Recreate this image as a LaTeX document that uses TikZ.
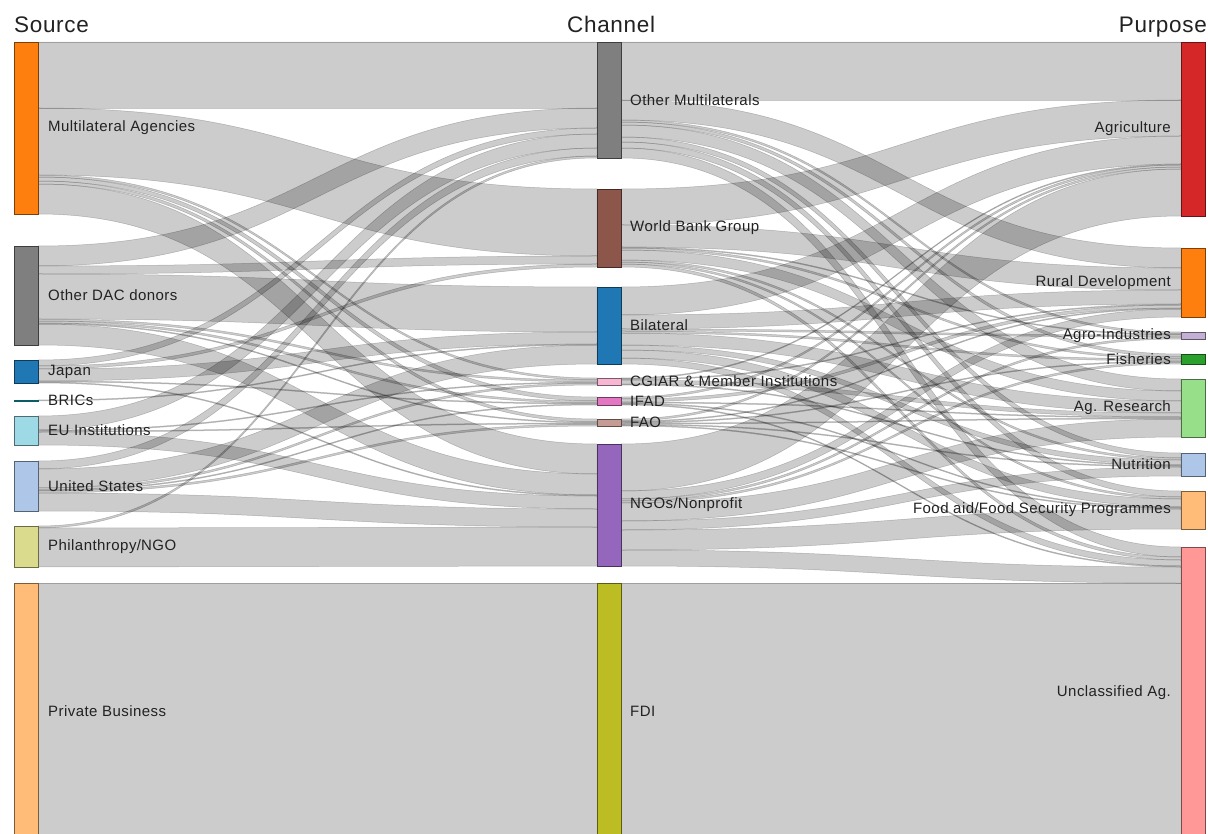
\documentclass[tikz,border=0pt]{standalone}
\usepackage{fontspec}
\setmainfont{Liberation Sans}[LetterSpace=3]
\usetikzlibrary{calc}
\pgfdeclarelayer{bg}
\pgfsetlayers{bg,main}
% d3 category20 colours
\definecolor{cMA}{HTML}{FF7F0E}
\definecolor{cOD}{HTML}{7F7F7F}
\definecolor{cJP}{HTML}{1F77B4}
\definecolor{cBR}{HTML}{17BECF}
\definecolor{cEU}{HTML}{9EDAE5}
\definecolor{cUS}{HTML}{AEC7E8}
\definecolor{cPH}{HTML}{DBDB8D}
\definecolor{cPB}{HTML}{FFBB78}
\definecolor{cOM}{HTML}{7F7F7F}
\definecolor{cWB}{HTML}{8C564B}
\definecolor{cBI}{HTML}{1F77B4}
\definecolor{cCG}{HTML}{F7B6D2}
\definecolor{cIF}{HTML}{E377C2}
\definecolor{cFA}{HTML}{C49C94}
\definecolor{cNG}{HTML}{9467BD}
\definecolor{cFD}{HTML}{BCBD22}
\definecolor{cAG}{HTML}{D62728}
\definecolor{cRD}{HTML}{FF7F0E}
\definecolor{cAI}{HTML}{C5B0D5}
\definecolor{cFI}{HTML}{2CA02C}
\definecolor{cAR}{HTML}{98DF8A}
\definecolor{cNU}{HTML}{AEC7E8}
\definecolor{cFO}{HTML}{FFBB78}
\definecolor{cUN}{HTML}{FF9896}
\definecolor{txt}{HTML}{222222}

\tikzset{
  snode/.style={rectangle, draw=#1!49!black, fill=#1, line width=0.8pt,
    minimum width=24pt, inner sep=0pt, outer sep=0pt, anchor=north west},
  lbl/.style={font=\fontsize{15}{18}\selectfont, text=txt, inner sep=0pt},
  ttl/.style={font=\fontsize{22.5}{26}\selectfont, text=txt, inner sep=0pt},
  band/.style={fill=black, fill opacity=0.2, draw=black, draw opacity=0.22, line width=0.5pt},
}

\newcommand\skset[3]{\expandafter\xdef\csname sk#1@#2\endcsname{#3}}
\newcommand\sknode[5]{% name, colour, x, y, height
  \node[snode=#2, minimum height=#5pt] (#1) at (#3,#4) {};
  \skset{out}{#1}{0}\skset{in}{#1}{0}}
\newcommand\sklink[3]{% source, target, value
  \edef\ska{\csname skout@#1\endcsname}%
  \edef\skb{\csname skin@#2\endcsname}%
  \begin{pgfonlayer}{bg}
  \path[band] let \p1=([yshift=-\ska pt]#1.north east),
                  \p2=([yshift=-\skb pt]#2.north west),
                  \n1={0.5*(\x1+\x2)}, \n2={#3pt} in
    (\p1) .. controls (\n1,\y1) and (\n1,\y2) .. (\p2)
    -- (\x2,\y2-\n2) .. controls (\n1,\y2-\n2) and (\n1,\y1-\n2) .. (\x1,\y1-\n2) -- cycle;
  \end{pgfonlayer}
  \pgfmathsetmacro\ska{\ska+#3}\skset{out}{#1}{\ska}%
  \pgfmathsetmacro\skb{\skb+#3}\skset{in}{#2}{\skb}%
}

\begin{document}
\begin{tikzpicture}[x=1pt, y=-1pt]
\clip (0,0) rectangle (1208,834);
\begin{pgfonlayer}{bg}
\fill[white] (0,0) rectangle (1208,834);
\end{pgfonlayer}

% ---- Source column
\sknode{MA}{cMA}{14}{42}{172}
\sknode{OD}{cOD}{14}{246}{99}
\sknode{JP}{cJP}{14}{360}{23}
\sknode{BR}{cBR}{14}{400}{1}
\sknode{EU}{cEU}{14}{416}{29}
\sknode{US}{cUS}{14}{461}{50}
\sknode{PH}{cPH}{14}{526}{41}
\sknode{PB}{cPB}{14}{583}{256}
% ---- Channel column
\sknode{OM}{cOM}{597}{42}{116}
\sknode{WB}{cWB}{597}{189}{78}
\sknode{BI}{cBI}{597}{287}{77}
\sknode{CG}{cCG}{597}{378}{7}
\sknode{IF}{cIF}{597}{397}{8}
\sknode{FA}{cFA}{597}{419}{7}
\sknode{NG}{cNG}{597}{444}{122}
\sknode{FD}{cFD}{597}{583}{256}
% ---- Purpose column
\sknode{AG}{cAG}{1181}{42}{174}
\sknode{RD}{cRD}{1181}{248}{69}
\sknode{AI}{cAI}{1181}{332}{7}
\sknode{FI}{cFI}{1181}{354}{10}
\sknode{AR}{cAR}{1181}{379}{58}
\sknode{NU}{cNU}{1181}{453}{23}
\sknode{FO}{cFO}{1181}{491}{38}
\sknode{UN}{cUN}{1181}{547}{292}

% ---- Source -> Channel
\sklink{MA}{OM}{66}\sklink{MA}{WB}{67}\sklink{MA}{CG}{2}\sklink{MA}{IF}{4}\sklink{MA}{FA}{3}\sklink{MA}{NG}{30}
\sklink{OD}{OM}{20}\sklink{OD}{WB}{8}\sklink{OD}{BI}{45}\sklink{OD}{CG}{2}\sklink{OD}{IF}{2}\sklink{OD}{FA}{1}\sklink{OD}{NG}{21}
\sklink{JP}{OM}{6}\sklink{JP}{WB}{3}\sklink{JP}{BI}{12}\sklink{JP}{IF}{1}\sklink{JP}{NG}{1}
\sklink{BR}{BI}{1}
\sklink{EU}{OM}{14}\sklink{EU}{CG}{1}\sklink{EU}{FA}{1}\sklink{EU}{NG}{13}
\sklink{US}{OM}{8}\sklink{US}{BI}{19}\sklink{US}{CG}{2}\sklink{US}{IF}{1}\sklink{US}{FA}{2}\sklink{US}{NG}{18}
\sklink{PH}{OM}{2}\sklink{PH}{NG}{39}
\sklink{PB}{FD}{256}

% ---- Channel -> Purpose
\sklink{OM}{AG}{58}\sklink{OM}{RD}{20}\sklink{OM}{AI}{2}\sklink{OM}{FI}{3}\sklink{OM}{AR}{12}\sklink{OM}{NU}{5}\sklink{OM}{FO}{6}\sklink{OM}{UN}{10}
\sklink{WB}{AG}{36}\sklink{WB}{RD}{22}\sklink{WB}{AI}{1}\sklink{WB}{FI}{2}\sklink{WB}{AR}{10}\sklink{WB}{NU}{2}\sklink{WB}{FO}{2}\sklink{WB}{UN}{3}
\sklink{BI}{AG}{28}\sklink{BI}{RD}{14}\sklink{BI}{AI}{2}\sklink{BI}{FI}{2}\sklink{BI}{AR}{12}\sklink{BI}{NU}{5}\sklink{BI}{FO}{8}\sklink{BI}{UN}{6}
\sklink{CG}{AG}{1}\sklink{CG}{RD}{1}\sklink{CG}{AR}{4}\sklink{CG}{NU}{1}
\sklink{IF}{AG}{2}\sklink{IF}{RD}{3}\sklink{IF}{AR}{1}\sklink{IF}{FO}{1}\sklink{IF}{UN}{1}
\sklink{FA}{AG}{2}\sklink{FA}{RD}{1}\sklink{FA}{FI}{1}\sklink{FA}{AR}{1}\sklink{FA}{NU}{1}\sklink{FA}{FO}{1}
\sklink{NG}{AG}{47}\sklink{NG}{RD}{8}\sklink{NG}{AI}{2}\sklink{NG}{FI}{2}\sklink{NG}{AR}{18}\sklink{NG}{NU}{9}\sklink{NG}{FO}{20}\sklink{NG}{UN}{16}
\sklink{FD}{UN}{256}

% ---- Titles
\node[ttl, anchor=base west] (tS) at (14,33) {Source};
\node[ttl, anchor=base west] (tC) at (567,33) {Channel};
\node[ttl, anchor=base east] (tP) at (1207,33) {Purpose};

% ---- Labels
\foreach \n/\t in {MA/Multilateral Agencies, OD/Other DAC donors, JP/Japan, BR/BRICs,
  EU/EU Institutions, US/United States, PH/Philanthropy\slash NGO, PB/Private Business}
  \node[lbl, anchor=west] (\n l) at ([xshift=10pt]\n.east) {\t};
\foreach \n/\t in {OM/Other Multilaterals, WB/World Bank Group, BI/Bilateral,
  CG/CGIAR \& Member Institutions, IF/IFAD, FA/FAO, NG/NGOs\slash Nonprofit, FD/FDI}
  \node[lbl, anchor=west] (\n l) at ([xshift=9pt]\n.east) {\t};
\foreach \n/\t in {AG/Agriculture, RD/Rural Development, AI/Agro-Industries, FI/Fisheries,
  AR/Ag. Research, NU/Nutrition, FO/Food aid\slash Food Security Programmes, UN/Unclassified Ag.}
  \node[lbl, anchor=east] (\n l) at ([xshift=-10pt]\n.west) {\t};
\end{tikzpicture}
\end{document}
